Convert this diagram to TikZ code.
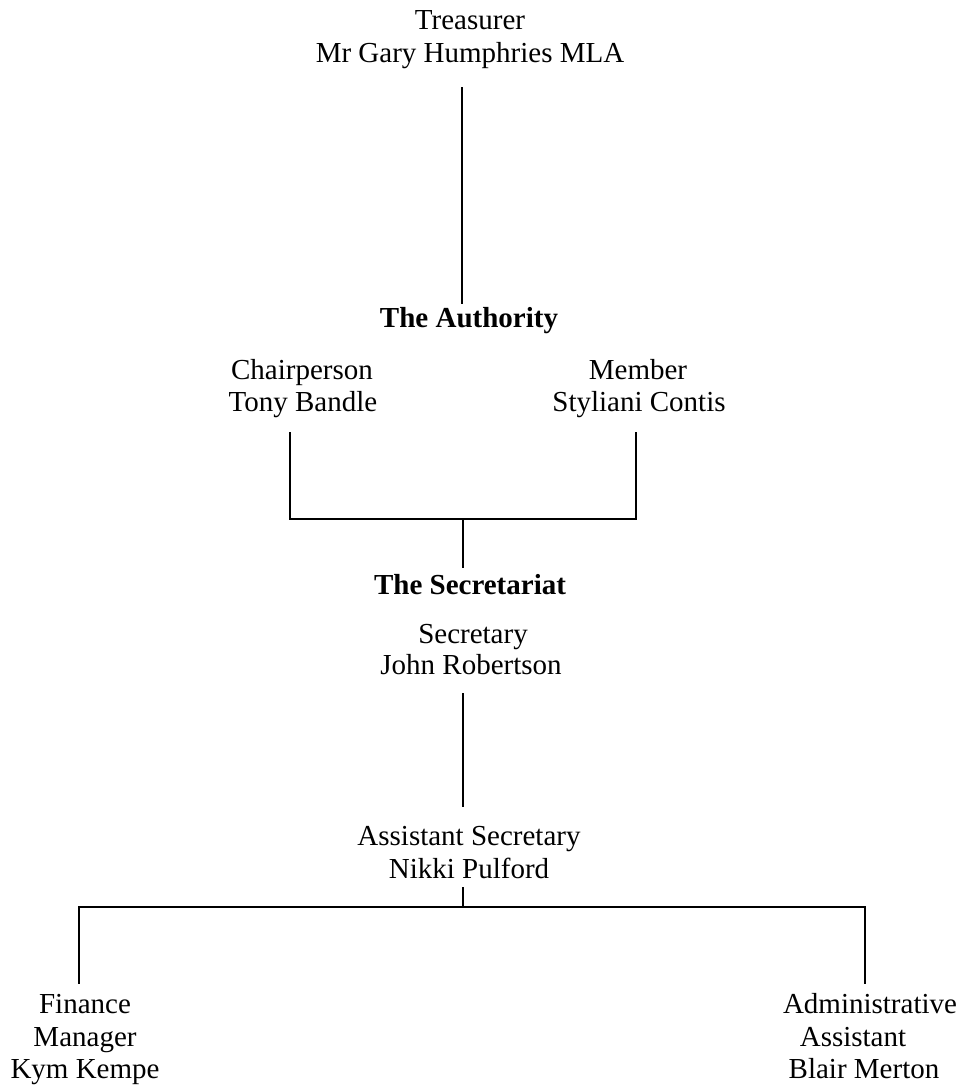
\documentclass[tikz,border=0pt]{standalone}
\usepackage{fontspec}
\setmainfont{Liberation Serif}
\begin{document}
\begin{tikzpicture}[x=1pt,y=-1pt,
  lbl/.style={anchor=base,inner sep=0pt,font=\fontsize{29}{34}\selectfont},
  blbl/.style={lbl,font=\fontsize{29}{34}\selectfont\bfseries},
  conn/.style={line width=2.2pt,line cap=rect}]
\useasboundingbox (0,0) rectangle (964,1088);
% texts
\node[lbl] (treas) at (470,29) {Treasurer};
\node[lbl] (gary) at (470,62) {Mr Gary Humphries MLA};
\node[blbl] (auth) at (469,327) {The Authority};
\node[lbl] (chair) at (302,379) {Chairperson};
\node[lbl] (tony) at (303,411) {Tony Bandle};
\node[lbl] (member) at (638,379) {Member};
\node[lbl] (styl) at (639,411) {Styliani Contis};
\node[blbl] (secr) at (470,594) {The Secretariat};
\node[lbl] (sec) at (473,643) {Secretary};
\node[lbl] (john) at (471,674) {John Robertson};
\node[lbl] (asst) at (469,845) {Assistant Secretary};
\node[lbl] (nikki) at (469,878) {Nikki Pulford};
\node[lbl] (fin) at (85,1013) {Finance};
\node[lbl] (mgr) at (85,1046) {Manager};
\node[lbl] (kym) at (85,1078) {Kym Kempe};
\node[lbl] (adm) at (870,1013) {Administrative};
\node[lbl] (ass2) at (853,1046) {Assistant};
\node[lbl] (blair) at (864,1078) {Blair Merton};
% connector points
\coordinate (g1) at (462,88);
\coordinate (a1) at (462,303);
\coordinate (c1) at (290,433);
\coordinate (c2) at (290,519);
\coordinate (m1) at (636,433);
\coordinate (m2) at (636,519);
\coordinate (j1) at (463,519);
\coordinate (s1) at (463,567);
\coordinate (r1) at (463,694);
\coordinate (n0) at (463,806);
\coordinate (n1) at (463,888);
\coordinate (n2) at (463,907);
\coordinate (f1) at (79,907);
\coordinate (f2) at (79,983);
\coordinate (b1) at (865,907);
\coordinate (b2) at (865,983);
% connectors
\draw[conn] (g1) -- (a1);
\draw[conn] (c1) -- (c2) -- (m2) -- (m1);
\draw[conn] (j1) -- (s1);
\draw[conn] (r1) -- (n0);
\draw[conn] (n1) -- (n2);
\draw[conn] (f2) -- (f1) -- (b1) -- (b2);
\end{tikzpicture}
\end{document}
